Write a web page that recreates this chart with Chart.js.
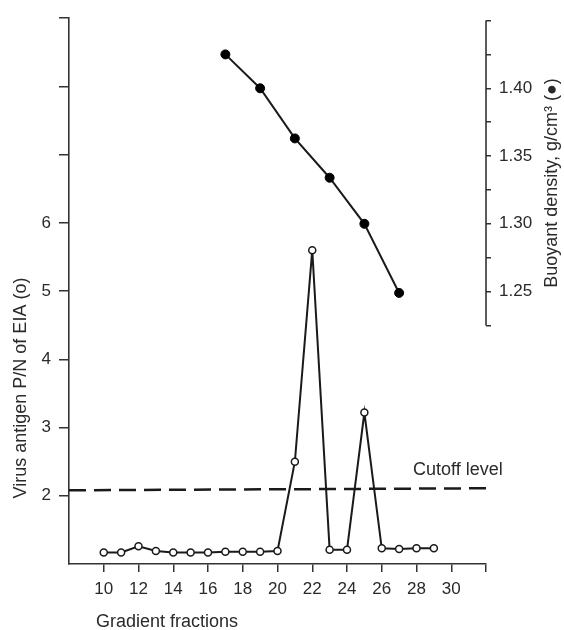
<!DOCTYPE html>
<html><head><meta charset="utf-8">
<script src="https://cdn.jsdelivr.net/npm/chart.js@4/dist/chart.umd.min.js"></script>
<style>html,body{margin:0;padding:0;background:#fff}#wrap{width:564px;height:630px;position:relative}</style>
</head><body><div id="wrap"><canvas id="c"></canvas></div>
<script>
// ---- data ----
const fractions = [10,11,12,13,14,15,16,17,18,19,20,21,22,23,24,25,26,27,28,29];
const antigenPN = [1.17,1.17,1.26,1.19,1.17,1.17,1.17,1.18,1.18,1.18,1.19,2.50,5.60,1.21,1.21,3.22,1.23,1.22,1.23,1.23];
const densityFractions = [17,19,21,23,25,27];
const densityValues = [1.425,1.400,1.363,1.334,1.300,1.249];
const cutoffX = [8,32];
const cutoffY = [2.08,2.11];
const xTicks = [10,12,14,16,18,20,22,24,26,28,30,32];
const xTickLabels = ['10','12','14','16','18','20','22','24','26','28','30',''];
const leftTicks = [2,3,4,5,6,7,8,9];
const leftTickLabels = ['2','3','4','5','6','','',''];
const rightTicks = [1.225,1.25,1.275,1.30,1.325,1.35,1.375,1.40,1.425,1.45];
const rightTickLabels = ['','1.25','','1.30','','1.35','','1.40','',''];
const xTitle = 'Gradient fractions';
const leftTitle = 'Virus antigen P/N of EIA (o)';
const rightTitle = 'Buoyant density, g/cm\u00B3 (\u25CF)';
const cutoffLabel = 'Cutoff level';

const FONT = "'Liberation Sans', Arial, sans-serif";
const INK = '#1a1a1a';
const AXIS = '#333';

const extras = {
  id: 'extras',
  afterDraw(chart) {
    const ctx = chart.ctx;
    const y2 = chart.scales.y2, x = chart.scales.x, y = chart.scales.y;
    ctx.save();
    // partial right axis line
    ctx.strokeStyle = AXIS; ctx.lineWidth = 1.6;
    ctx.beginPath();
    const rx = y2.left;
    ctx.moveTo(rx, y2.getPixelForValue(rightTicks[0]));
    ctx.lineTo(rx, y2.getPixelForValue(rightTicks[rightTicks.length-1]));
    ctx.stroke();
    // titles
    ctx.fillStyle = '#2a2a2a';
    ctx.font = '18px ' + FONT;
    ctx.textAlign = 'left'; ctx.textBaseline = 'alphabetic';
    ctx.fillText(xTitle, 96, 627);
    // cutoff label
    ctx.font = '18px ' + FONT;
    ctx.fillText(cutoffLabel, x.getPixelForValue(27.8), y.getPixelForValue(2.30));
    // left title
    ctx.save();
    ctx.translate(21, 388); ctx.rotate(-Math.PI/2);
    ctx.textAlign = 'center'; ctx.textBaseline = 'middle';
    ctx.fillText(leftTitle, 0, 0);
    ctx.restore();
    // right title
    ctx.save();
    ctx.translate(552, 183); ctx.rotate(-Math.PI/2);
    ctx.textAlign = 'center'; ctx.textBaseline = 'middle';
    ctx.fillText(rightTitle, 0, 0);
    ctx.restore();
    ctx.restore();
  }
};

new Chart(document.getElementById('c'), {
  type: 'line',
  data: {
    datasets: [
      {
        label: 'P/N',
        data: fractions.map((f,i)=>({x:f, y:antigenPN[i]})),
        yAxisID: 'y',
        borderColor: INK, borderWidth: 2,
        pointRadius: 3.5, pointBorderWidth: 1.5,
        pointBackgroundColor: '#fff', pointBorderColor: INK,
        tension: 0
      },
      {
        label: 'Density',
        data: densityFractions.map((f,i)=>({x:f, y:densityValues[i]})),
        yAxisID: 'y2',
        borderColor: INK, borderWidth: 2,
        pointRadius: 4.5, pointBorderWidth: 1,
        pointBackgroundColor: '#000', pointBorderColor: '#000',
        tension: 0
      },
      {
        label: 'Cutoff',
        data: cutoffX.map((f,i)=>({x:f, y:cutoffY[i]})),
        yAxisID: 'y',
        borderColor: INK, borderWidth: 2.5,
        borderDash: [17, 8],
        pointRadius: 0,
        tension: 0
      }
    ]
  },
  options: {
    responsive: true, maintainAspectRatio: false, animation: false,
    layout: { padding: { top: 14, left: 0, right: 0, bottom: 0 } },
    plugins: { legend: { display: false }, tooltip: { enabled: false } },
    scales: {
      x: {
        type: 'linear', min: 8, max: 32,
        afterBuildTicks: s => { s.ticks = xTicks.map(v=>({value:v})); },
        afterFit: s => { s.height = 66; },
        ticks: { color: '#2a2a2a', font: { family: FONT, size: 17 }, padding: 7,
                 maxRotation: 0, autoSkip: false,
                 callback: (v, i) => xTickLabels[i] },
        grid: { drawOnChartArea: false, drawTicks: true, tickLength: 8, color: AXIS, lineWidth: 1.5 },
        border: { display: true, color: AXIS, width: 1.6 }
      },
      y: {
        type: 'linear', position: 'left', min: 1, max: 9,
        afterBuildTicks: s => { s.ticks = leftTicks.map(v=>({value:v})); },
        afterFit: s => { s.width = 69; },
        ticks: { color: '#2a2a2a', font: { family: FONT, size: 17 }, padding: 8, autoSkip: false,
                 callback: (v, i) => leftTickLabels[i] },
        grid: { drawOnChartArea: false, drawTicks: true, tickLength: 10, color: AXIS, lineWidth: 1.5 },
        border: { display: true, color: AXIS, width: 1.6 }
      },
      y2: {
        type: 'linear', position: 'right', min: 1.049, max: 1.4517,
        afterBuildTicks: s => { s.ticks = rightTicks.map(v=>({value:v})); },
        afterFit: s => { s.width = 78; },
        ticks: { color: '#2a2a2a', font: { family: FONT, size: 17 }, padding: 8, autoSkip: false,
                 callback: (v, i) => rightTickLabels[i] },
        grid: { drawOnChartArea: false, drawTicks: true, tickLength: 5, color: AXIS, lineWidth: 1.5 },
        border: { display: false }
      }
    }
  },
  plugins: [extras]
});
</script>
</body></html>
